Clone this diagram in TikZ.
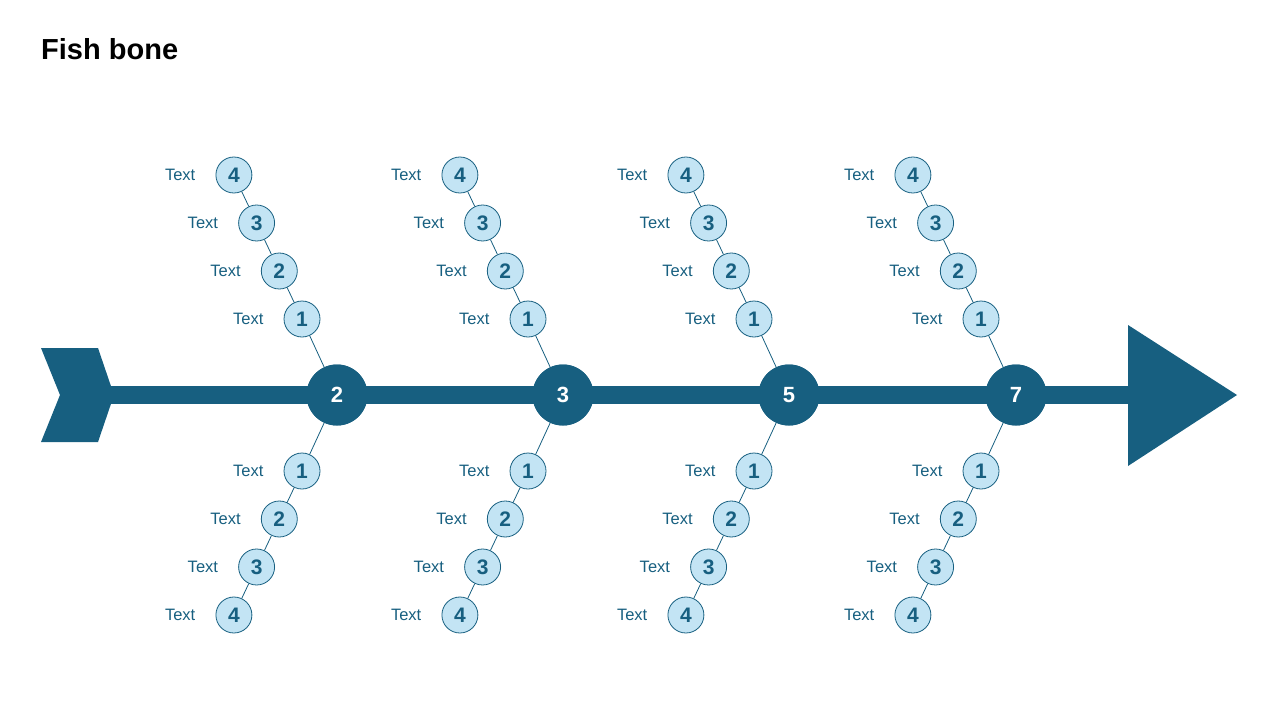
\documentclass[tikz,border=0pt]{standalone}
\usepackage{fontspec}
\setmainfont{Liberation Sans}
\definecolor{fishblue}{HTML}{175F80}
\definecolor{fishlight}{HTML}{C3E4F4}
\begin{document}
\begin{tikzpicture}[x=1pt,y=-1pt,
  mainnode/.style={circle,fill=fishblue,minimum size=61pt,inner sep=0pt,text=white,font=\bfseries\fontsize{22}{22}\selectfont},
  subnode/.style={circle,fill=fishlight,draw=fishblue,line width=0.8pt,minimum size=36pt,inner sep=0pt,text=fishblue,font=\bfseries\fontsize{21}{21}\selectfont},
  lbl/.style={text=fishblue,font=\fontsize{16.5}{17}\selectfont,anchor=east,inner sep=0pt},
  bone/.style={draw=fishblue,line width=0.8pt}]
\useasboundingbox (0,0) rectangle (1280,720);
\node[anchor=base west,inner sep=0pt,font=\bfseries\fontsize{29}{29}\selectfont] (title) at (41,59) {Fish bone};
% spine
\fill[fishblue] (41,348) -- (98,348) -- (114,395) -- (98,442) -- (41,442) -- (60,395) -- cycle;
\coordinate (tail) at (108,395);
\coordinate (headbase) at (1130,395);
\draw[fishblue,line width=18pt] (tail) -- (headbase);
\fill[fishblue] (1128,325) -- (1237,395) -- (1128,466) -- cycle;
\foreach \i/\x/\n in {a/337/2,b/563/3,c/789/5,d/1016/7}{
  \foreach \k in {1,2,3,4}{
    \pgfmathsetmacro{\cx}{\x-35-(\k-1)*22.7}
    \pgfmathsetmacro{\uy}{319-(\k-1)*48}
    \pgfmathsetmacro{\dy}{471+(\k-1)*48}
    \node[subnode] (\i u\k) at (\cx,\uy) {\k};
    \node[subnode] (\i d\k) at (\cx,\dy) {\k};
    \node[lbl] (\i ul\k) at ([xshift=-20pt]\i u\k.west) {Text};
    \node[lbl] (\i dl\k) at ([xshift=-20pt]\i d\k.west) {Text};
  }
  \node[mainnode] (\i) at (\x,395) {};
  \draw[bone] (\i) -- (\i u1);
  \draw[bone] (\i u1) -- (\i u2);
  \draw[bone] (\i u2) -- (\i u3);
  \draw[bone] (\i u3) -- (\i u4);
  \draw[bone] (\i) -- (\i d1);
  \draw[bone] (\i d1) -- (\i d2);
  \draw[bone] (\i d2) -- (\i d3);
  \draw[bone] (\i d3) -- (\i d4);
  \node[mainnode] at (\i) {\n};
}
\end{tikzpicture}
\end{document}
